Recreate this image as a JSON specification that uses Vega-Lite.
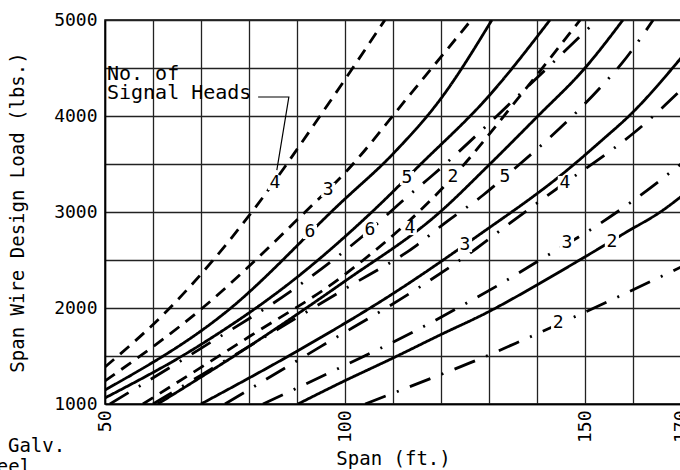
{
  "$schema": "https://vega.github.io/schema/vega-lite/v6.json",
  "width": 576,
  "height": 384,
  "autosize": {"type": "none"},
  "padding": {"left": 105, "top": 20, "right": 0, "bottom": 66},
  "background": "white",
  "config": {
    "view": {"stroke": "black", "strokeWidth": 1.5},
    "font": "DejaVu Sans Mono",
    "axis": {"labelFont": "DejaVu Sans Mono", "titleFont": "DejaVu Sans Mono", "labelColor": "black", "titleColor": "black", "titleFontWeight": "normal", "gridColor": "#222", "gridWidth": 1.3, "gridOpacity": 1, "domainColor": "black", "domainWidth": 1.5, "ticks": false, "tickSize": 0}
  },
  "datasets": {
    "curves": [
      {"curve": "SD4", "style": "short", "span": 50, "load": 1385},
      {"curve": "SD4", "style": "short", "span": 63.5, "load": 2000},
      {"curve": "SD4", "style": "short", "span": 80.6, "load": 3000},
      {"curve": "SD4", "style": "short", "span": 94.8, "load": 4000},
      {"curve": "SD4", "style": "short", "span": 108.3, "load": 5000},
      {"curve": "SD3", "style": "short", "span": 50, "load": 1240},
      {"curve": "SD3", "style": "short", "span": 70.3, "load": 2000},
      {"curve": "SD3", "style": "short", "span": 91.7, "load": 3000},
      {"curve": "SD3", "style": "short", "span": 100.4, "load": 3430},
      {"curve": "SD3", "style": "short", "span": 113.5, "load": 4220},
      {"curve": "SD3", "style": "short", "span": 126.3, "load": 5000},
      {"curve": "SD2", "style": "short", "span": 57.9, "load": 1000},
      {"curve": "SD2", "style": "short", "span": 80, "load": 1700},
      {"curve": "SD2", "style": "short", "span": 100, "load": 2350},
      {"curve": "SD2", "style": "short", "span": 122.5, "load": 3365},
      {"curve": "SD2", "style": "short", "span": 136, "load": 4180},
      {"curve": "SD2", "style": "short", "span": 149, "load": 5000},
      {"curve": "S6", "style": "solid", "span": 50, "load": 1146},
      {"curve": "S6", "style": "solid", "span": 75, "load": 1950},
      {"curve": "S6", "style": "solid", "span": 99, "load": 3090},
      {"curve": "S6", "style": "solid", "span": 110.1, "load": 3611},
      {"curve": "S6", "style": "solid", "span": 119.9, "load": 4176},
      {"curve": "S6", "style": "solid", "span": 130.6, "load": 5000},
      {"curve": "S5", "style": "solid", "span": 50, "load": 1063},
      {"curve": "S5", "style": "solid", "span": 70, "load": 1620},
      {"curve": "S5", "style": "solid", "span": 90, "load": 2320},
      {"curve": "S5", "style": "solid", "span": 105.6, "load": 3000},
      {"curve": "S5", "style": "solid", "span": 115.4, "load": 3480},
      {"curve": "S5", "style": "solid", "span": 130, "load": 4210},
      {"curve": "S5", "style": "solid", "span": 142.7, "load": 5000},
      {"curve": "S4", "style": "solid", "span": 61, "load": 1000},
      {"curve": "S4", "style": "solid", "span": 80, "load": 1600},
      {"curve": "S4", "style": "solid", "span": 100, "load": 2280},
      {"curve": "S4", "style": "solid", "span": 119.8, "load": 3000},
      {"curve": "S4", "style": "solid", "span": 129.8, "load": 3480},
      {"curve": "S4", "style": "solid", "span": 140, "load": 3990},
      {"curve": "S4", "style": "solid", "span": 150, "load": 4500},
      {"curve": "S4", "style": "solid", "span": 157.9, "load": 5000},
      {"curve": "S3", "style": "solid", "span": 70, "load": 1000},
      {"curve": "S3", "style": "solid", "span": 90, "load": 1550},
      {"curve": "S3", "style": "solid", "span": 110, "load": 2150},
      {"curve": "S3", "style": "solid", "span": 127.4, "load": 2743},
      {"curve": "S3", "style": "solid", "span": 146.3, "load": 3437},
      {"curve": "S3", "style": "solid", "span": 153.1, "load": 3729},
      {"curve": "S3", "style": "solid", "span": 159.8, "load": 4031},
      {"curve": "S3", "style": "solid", "span": 170, "load": 4604},
      {"curve": "S2", "style": "solid", "span": 90.2, "load": 1000},
      {"curve": "S2", "style": "solid", "span": 99, "load": 1219},
      {"curve": "S2", "style": "solid", "span": 110, "load": 1479},
      {"curve": "S2", "style": "solid", "span": 119.8, "load": 1719},
      {"curve": "S2", "style": "solid", "span": 129.8, "load": 1958},
      {"curve": "S2", "style": "solid", "span": 140, "load": 2240},
      {"curve": "S2", "style": "solid", "span": 149.6, "load": 2521},
      {"curve": "S2", "style": "solid", "span": 158.3, "load": 2781},
      {"curve": "S2", "style": "solid", "span": 166.3, "load": 3021},
      {"curve": "S2", "style": "solid", "span": 170, "load": 3160},
      {"curve": "D6", "style": "dashdot", "span": 51, "load": 1000},
      {"curve": "D6", "style": "dashdot", "span": 70, "load": 1580},
      {"curve": "D6", "style": "dashdot", "span": 90, "load": 2220},
      {"curve": "D6", "style": "dashdot", "span": 105.2, "load": 2812},
      {"curve": "D6", "style": "dashdot", "span": 112.9, "load": 3156},
      {"curve": "D6", "style": "dashdot", "span": 118.3, "load": 3385},
      {"curve": "D6", "style": "dashdot", "span": 135, "load": 4160},
      {"curve": "D6", "style": "dashdot", "span": 152.5, "load": 5000},
      {"curve": "D5", "style": "dashdot", "span": 60, "load": 1000},
      {"curve": "D5", "style": "dashdot", "span": 80, "load": 1600},
      {"curve": "D5", "style": "dashdot", "span": 100, "load": 2200},
      {"curve": "D5", "style": "dashdot", "span": 115, "load": 2656},
      {"curve": "D5", "style": "dashdot", "span": 120.8, "load": 2885},
      {"curve": "D5", "style": "dashdot", "span": 128.8, "load": 3177},
      {"curve": "D5", "style": "dashdot", "span": 133.3, "load": 3365},
      {"curve": "D5", "style": "dashdot", "span": 153.1, "load": 4292},
      {"curve": "D5", "style": "dashdot", "span": 157.7, "load": 4550},
      {"curve": "D5", "style": "dashdot", "span": 164.2, "load": 5000},
      {"curve": "D4", "style": "dashdot", "span": 75, "load": 1000},
      {"curve": "D4", "style": "dashdot", "span": 95, "load": 1600},
      {"curve": "D4", "style": "dashdot", "span": 115, "load": 2200},
      {"curve": "D4", "style": "dashdot", "span": 127.5, "load": 2625},
      {"curve": "D4", "style": "dashdot", "span": 133.3, "load": 2844},
      {"curve": "D4", "style": "dashdot", "span": 145.8, "load": 3302},
      {"curve": "D4", "style": "dashdot", "span": 154.4, "load": 3604},
      {"curve": "D4", "style": "dashdot", "span": 160.4, "load": 3833},
      {"curve": "D4", "style": "dashdot", "span": 170, "load": 4271},
      {"curve": "D3", "style": "dashdot", "span": 82.9, "load": 1000},
      {"curve": "D3", "style": "dashdot", "span": 101, "load": 1427},
      {"curve": "D3", "style": "dashdot", "span": 114.2, "load": 1750},
      {"curve": "D3", "style": "dashdot", "span": 123.5, "load": 2000},
      {"curve": "D3", "style": "dashdot", "span": 132.7, "load": 2260},
      {"curve": "D3", "style": "dashdot", "span": 141.3, "load": 2521},
      {"curve": "D3", "style": "dashdot", "span": 151.7, "load": 2833},
      {"curve": "D3", "style": "dashdot", "span": 160.8, "load": 3146},
      {"curve": "D3", "style": "dashdot", "span": 170, "load": 3500},
      {"curve": "D2", "style": "dashdot", "span": 104.2, "load": 1000},
      {"curve": "D2", "style": "dashdot", "span": 118.1, "load": 1271},
      {"curve": "D2", "style": "dashdot", "span": 127.5, "load": 1458},
      {"curve": "D2", "style": "dashdot", "span": 137.1, "load": 1667},
      {"curve": "D2", "style": "dashdot", "span": 147.3, "load": 1896},
      {"curve": "D2", "style": "dashdot", "span": 160.8, "load": 2208},
      {"curve": "D2", "style": "dashdot", "span": 170, "load": 2427}
    ],
    "labels": [
      {"text": "4", "span": 85.4, "load": 3302},
      {"text": "3", "span": 96.5, "load": 3229},
      {"text": "2", "span": 122.5, "load": 3365},
      {"text": "6", "span": 92.7, "load": 2792},
      {"text": "5", "span": 112.9, "load": 3354},
      {"text": "4", "span": 113.5, "load": 2833},
      {"text": "3", "span": 125, "load": 2656},
      {"text": "2", "span": 155.6, "load": 2687},
      {"text": "6", "span": 105.2, "load": 2812},
      {"text": "5", "span": 133.3, "load": 3365},
      {"text": "4", "span": 145.8, "load": 3302},
      {"text": "3", "span": 146.25, "load": 2677},
      {"text": "2", "span": 144.4, "load": 1844}
    ],
    "notesLeft": [
      {"text": "No. of", "span": 50.4, "load": 4375},
      {"text": "Signal Heads", "span": 50.4, "load": 4172}
    ],
    "notesRight": [
      {"text": "3/8\" Galv.", "span": 41.7, "load": 560},
      {"text": "Steel", "span": 34.6, "load": 345}
    ],
    "leader": [
      {"order": 1, "span": 81.9, "load": 4198},
      {"order": 2, "span": 88.3, "load": 4198},
      {"order": 3, "span": 85.8, "load": 3437}
    ]
  },
  "layer": [
    {
      "data": {"name": "curves"},
      "mark": {"type": "line", "color": "black", "strokeWidth": 2.8, "interpolate": "monotone", "clip": true},
      "encoding": {
        "x": {"field": "span", "type": "quantitative", "scale": {"domain": [50, 170], "nice": false, "zero": false},
          "axis": {"values": [50, 60, 70, 80, 90, 100, 110, 120, 130, 140, 150, 160, 170], "grid": true, "labelExpr": "(datum.value == 50 || datum.value == 100 || datum.value == 150 || datum.value == 170) ? datum.label : ''", "labelAngle": 270, "labelAlign": "right", "labelBaseline": "middle", "labelPadding": 6, "labelFontSize": 18, "labelOverlap": false, "labelBound": false, "title": "Span (ft.)", "titleFontSize": 19, "titlePadding": 7}},
        "y": {"field": "load", "type": "quantitative", "scale": {"domain": [1000, 5000], "nice": false, "zero": false},
          "axis": {"values": [1000, 1500, 2000, 2500, 3000, 3500, 4000, 4500, 5000], "format": "d", "grid": true, "labelExpr": "datum.value % 1000 == 0 ? datum.label : ''", "labelPadding": 8, "labelFontSize": 18, "labelOverlap": false, "title": "Span Wire Design Load (lbs.)", "titleFontSize": 19, "titlePadding": 26}},
        "detail": {"field": "curve"},
        "strokeDash": {"field": "style", "type": "nominal", "scale": {"domain": ["solid", "short", "dashdot"], "range": [[1, 0], [12, 8], [22, 12, 2, 12]]}, "legend": null}
      }
    },
    {
      "data": {"name": "labels"},
      "mark": {"type": "point", "shape": "square", "filled": true, "color": "white", "opacity": 1, "size": 200},
      "encoding": {
        "x": {"field": "span", "type": "quantitative"},
        "y": {"field": "load", "type": "quantitative"}
      }
    },
    {
      "data": {"name": "labels"},
      "mark": {"type": "text", "fontSize": 18, "color": "black", "align": "center", "baseline": "middle", "font": "DejaVu Sans Mono"},
      "encoding": {
        "x": {"field": "span", "type": "quantitative"},
        "y": {"field": "load", "type": "quantitative"},
        "text": {"field": "text"}
      }
    },
    {
      "data": {"name": "notesLeft"},
      "mark": {"type": "text", "color": "black", "align": "left", "baseline": "alphabetic", "fontSize": 20, "font": "DejaVu Sans Mono"},
      "encoding": {
        "x": {"field": "span", "type": "quantitative"},
        "y": {"field": "load", "type": "quantitative"},
        "text": {"field": "text"}
      }
    },
    {
      "data": {"name": "notesRight"},
      "mark": {"type": "text", "color": "black", "align": "right", "baseline": "middle", "fontSize": 19, "font": "DejaVu Sans Mono"},
      "encoding": {
        "x": {"field": "span", "type": "quantitative"},
        "y": {"field": "load", "type": "quantitative"},
        "text": {"field": "text"}
      }
    },
    {
      "data": {"name": "leader"},
      "mark": {"type": "line", "color": "black", "strokeWidth": 1.2},
      "encoding": {
        "x": {"field": "span", "type": "quantitative"},
        "y": {"field": "load", "type": "quantitative"},
        "order": {"field": "order"}
      }
    }
  ]
}
